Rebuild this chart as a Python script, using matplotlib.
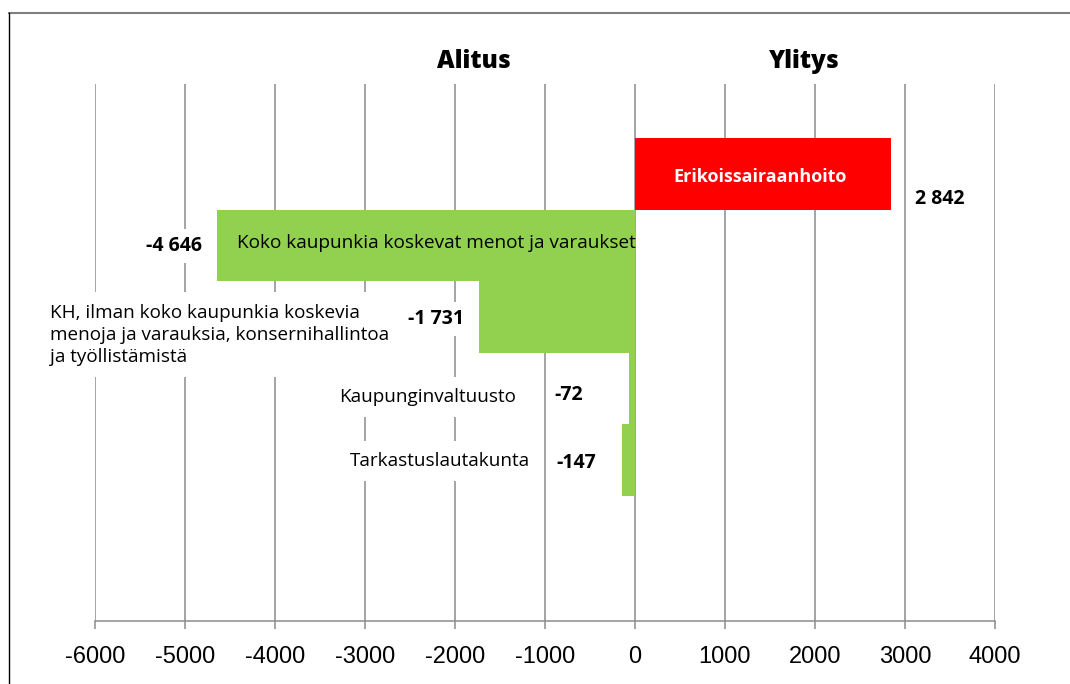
import matplotlib
matplotlib.use('Agg')
import matplotlib.pyplot as plt
from matplotlib.lines import Line2D

# data (tuhatta euroa)
categories = ["Erikoissairaanhoito",
              "Koko kaupunkia koskevat menot ja varaukset",
              "KH, ilman koko kaupunkia koskevia\nmenoja ja varauksia, konsernihallintoa\nja työllistämistä",
              "Kaupunginvaltuusto",
              "Tarkastuslautakunta"]
values = [2842, -4646, -1731, -72, -147]
value_labels = ["2 842", "-4 646", "-1 731", "-72", "-147"]
xticks = [-6000, -5000, -4000, -3000, -2000, -1000, 0, 1000, 2000, 3000, 4000]

GREEN = '#92D050'
RED = '#FF0000'
GRID = '#8C8C8C'
plt.rcParams['font.family'] = ['Open Sans', 'DejaVu Sans']

fig = plt.figure(figsize=(10.7, 6.84), dpi=100)
ax = fig.add_axes([95/1070, 1-621/684, 900/1070, 537/684])

ypos = list(range(len(values)))
colors = [RED if v > 0 else GREEN for v in values]
ax.barh(ypos, values, height=1.0, color=colors, zorder=3)

ax.set_xlim(-6000, 4000)
ax.set_ylim(6.246, -1.254)
ax.set_xticks(xticks)
ax.set_xticklabels([str(t) for t in xticks], family='Liberation Sans', fontsize=17)
ax.set_yticks([])
ax.grid(axis='x', color=GRID, linewidth=1.1, zorder=0)
for s in ['top', 'right', 'left']:
    ax.spines[s].set_visible(False)
ax.spines['bottom'].set_color(GRID)
ax.spines['bottom'].set_linewidth(1.1)
ax.spines['bottom'].set_zorder(1)
ax.tick_params(axis='x', length=6, width=1.1, color=GRID, pad=12)

# label placement (layout only)
cat_pos = [(1389, 0.045, 'center'), (-4422, 0.966, 'left'), (-6500, 2.25, 'left'),
           (-2300, 3.117, 'center'), (-2167, 4.011, 'center')]
val_pos = [(3389, 0.352), (-5122, 1.008), (-2211, 2.028), (-733, 3.089), (-656, 4.04)]

for i, (name, (x, y, ha)) in enumerate(zip(categories, cat_pos)):
    if i == 0:
        ax.text(x, y, name, ha=ha, va='center', fontsize=13, fontweight='bold',
                color='white', zorder=5)
    elif i == 1:
        ax.text(x, y, name, ha=ha, va='center', fontsize=13.7, color='black', zorder=5)
    else:
        ax.text(x, y, name, ha=ha, va='center', fontsize=13.6, color='black', zorder=2,
                linespacing=1.3, clip_on=False,
                bbox=dict(boxstyle='square,pad=0.6', facecolor='white', edgecolor='none'))

for lab, (x, y) in zip(value_labels, val_pos):
    ax.text(x, y, lab, ha='center', va='center', fontsize=14, fontweight='bold', zorder=2,
            bbox=dict(boxstyle='square,pad=0.35', facecolor='white', edgecolor='none'))

fig.text(474/1070, 1-62/684, "Alitus", ha='center', va='center', fontsize=17.5, fontweight='heavy')
fig.text(804/1070, 1-62/684, "Ylitys", ha='center', va='center', fontsize=17.5, fontweight='heavy')

# chart frame
fig.add_artist(Line2D([9/1070, 1], [1-13/684, 1-13/684], color='#7F7F7F', linewidth=1.5))
fig.add_artist(Line2D([9/1070, 9/1070], [0, 1-13/684], color='black', linewidth=1.0))

fig.savefig('out.png', dpi=100)
